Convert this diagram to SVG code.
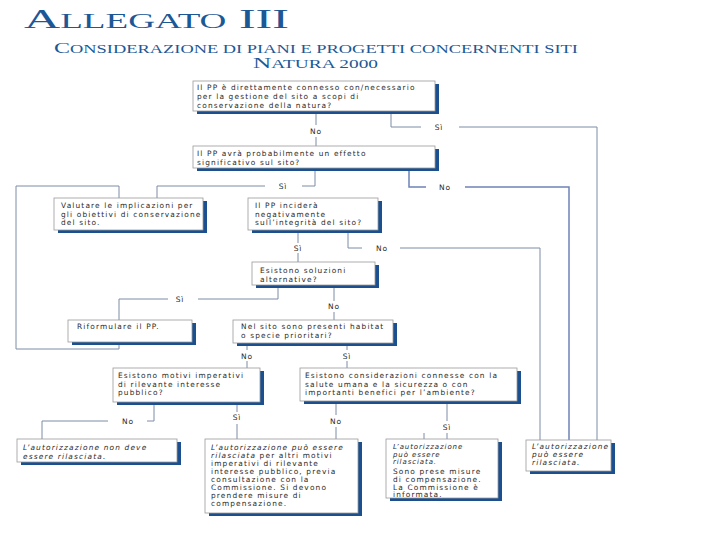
<svg xmlns="http://www.w3.org/2000/svg" width="720" height="540" viewBox="0 0 720 540">
<style>
.t{font-family:"DejaVu Sans","Liberation Sans",sans-serif;font-size:7.4px;letter-spacing:1.15px;fill:#2a2a2a}
.i{font-style:italic}
.s{font-size:7px;letter-spacing:0.9px}
.lb{font-family:"DejaVu Sans","Liberation Sans",sans-serif;font-size:7.5px;letter-spacing:0.8px;fill:#2a2a2a;text-anchor:middle}
.sh{fill:#1b4f8e}
.bx{fill:#ffffff;stroke:#9a9a9a;stroke-width:0.8}
.c{fill:none;stroke:#7f8ca6;stroke-width:1}
.ti{font-family:"Liberation Serif","Times New Roman",serif;fill:#1d5896}
</style>
<rect width="720" height="540" fill="#ffffff"/>
<g id="title">
<text class="ti" x="24" y="28" textLength="265" lengthAdjust="spacingAndGlyphs"><tspan font-size="27">A</tspan><tspan font-size="20">LLEGATO</tspan><tspan font-size="27"> III</tspan></text>
<text class="ti" x="54" y="53" textLength="524" lengthAdjust="spacingAndGlyphs"><tspan font-size="15">C</tspan><tspan font-size="11.5">ONSIDERAZIONE DI PIANI E PROGETTI CONCERNENTI SITI</tspan></text>
<text class="ti" x="253" y="68" textLength="125" lengthAdjust="spacingAndGlyphs"><tspan font-size="15">N</tspan><tspan font-size="11.5">ATURA 2000</tspan></text>
</g>
<g id="connectors">
<path class="c" d="M316,111V125M316,137V146"/>
<text class="lb" x="316" y="134">No</text>
<path class="c" d="M391,111V127H421M459,127H597V440"/>
<text class="lb" x="439" y="130">Sì</text>
<path class="c" d="M315,168V186H302M265,186H157V198"/>
<text class="lb" x="283" y="189">Sì</text>
<path class="c" d="M409,168V187H426M465,187H569V440" style="stroke:#6f83b6;stroke-width:1.5"/>
<text class="lb" x="445" y="190">No</text>
<path class="c" d="M119,198V186H16V349H119V342"/>
<path class="c" d="M298,230V243M298,253V262"/>
<text class="lb" x="298" y="251">Sì</text>
<path class="c" d="M348,230V248H362M400,248H540V440"/>
<text class="lb" x="382" y="251">No</text>
<path class="c" d="M278,285V299H198M168,299H119V320"/>
<text class="lb" x="180" y="302">Sì</text>
<path class="c" d="M334,285V301M334,312V320"/>
<text class="lb" x="334" y="309">No</text>
<path class="c" d="M247,343V350M247,361V368"/>
<text class="lb" x="247" y="359">No</text>
<path class="c" d="M347,343V350M347,361V368"/>
<text class="lb" x="347" y="359">Sì</text>
<path class="c" d="M154,402V421H147M108,421H42V439"/>
<text class="lb" x="128" y="424">No</text>
<path class="c" d="M237,402V412M237,424V439"/>
<text class="lb" x="237" y="420">Sì</text>
<path class="c" d="M336,401V415M336,427V439"/>
<text class="lb" x="336" y="424">No</text>
<path class="c" d="M447,401V421M447,433V439M424,433V439"/>
<text class="lb" x="447" y="430">Sì</text>
</g>
<g id="n1">
<rect class="sh" x="197" y="84" width="242" height="30"/>
<rect class="bx" x="193" y="81" width="242" height="30"/>
<text class="t" x="197" y="90">Il PP è direttamente connesso con/necessario</text>
<text class="t" x="197" y="99">per la gestione del sito a scopi di</text>
<text class="t" x="197" y="108">conservazione della natura?</text>
</g>
<g id="n2">
<rect class="sh" x="197" y="149" width="242" height="22"/>
<rect class="bx" x="193" y="146" width="242" height="22"/>
<text class="t" x="197" y="156">Il PP avrà probabilmente un effetto</text>
<text class="t" x="197" y="165">significativo sul sito?</text>
</g>
<g id="n3">
<rect class="sh" x="58" y="201" width="149" height="32"/>
<rect class="bx" x="54" y="198" width="149" height="32"/>
<text class="t" x="61" y="208">Valutare le implicazioni per</text>
<text class="t" x="61" y="216.5">gli obiettivi di conservazione</text>
<text class="t" x="61" y="225">del sito.</text>
</g>
<g id="n4">
<rect class="sh" x="252" y="201" width="130" height="32"/>
<rect class="bx" x="248" y="198" width="130" height="32"/>
<text class="t" x="255" y="208">Il PP inciderà</text>
<text class="t" x="255" y="216.5">negativamente</text>
<text class="t" x="255" y="225">sull’integrità del sito?</text>
</g>
<g id="n5">
<rect class="sh" x="256" y="265" width="123" height="23"/>
<rect class="bx" x="252" y="262" width="123" height="23"/>
<text class="t" x="260" y="273">Esistono soluzioni</text>
<text class="t" x="260" y="281.5">alternative?</text>
</g>
<g id="n6">
<rect class="sh" x="72" y="323" width="124" height="22"/>
<rect class="bx" x="68" y="320" width="124" height="22"/>
<text class="t" x="77" y="329">Riformulare il PP.</text>
</g>
<g id="n7">
<rect class="sh" x="237" y="323" width="160" height="23"/>
<rect class="bx" x="233" y="320" width="160" height="23"/>
<text class="t" x="241" y="329">Nel sito sono presenti habitat</text>
<text class="t" x="241" y="338">o specie prioritari?</text>
</g>
<g id="n8">
<rect class="sh" x="117" y="371" width="147" height="34"/>
<rect class="bx" x="113" y="368" width="147" height="34"/>
<text class="t" x="118" y="378">Esistono motivi imperativi</text>
<text class="t" x="118" y="386.5">di rilevante interesse</text>
<text class="t" x="118" y="395">pubblico?</text>
</g>
<g id="n9">
<rect class="sh" x="304" y="371" width="217" height="33"/>
<rect class="bx" x="300" y="368" width="217" height="33"/>
<text class="t" x="305" y="378">Esistono considerazioni connesse con la</text>
<text class="t" x="305" y="386.5">salute umana e la sicurezza o con</text>
<text class="t" x="305" y="395">importanti benefici per l’ambiente?</text>
</g>
<g id="n10">
<rect class="sh" x="21" y="442" width="160" height="23"/>
<rect class="bx" x="17" y="439" width="160" height="23"/>
<text class="t i" x="23" y="450">L’autorizzazione non deve</text>
<text class="t i" x="23" y="458.5">essere rilasciata.</text>
</g>
<g id="n11">
<rect class="sh" x="209" y="442" width="153" height="74"/>
<rect class="bx" x="205" y="439" width="153" height="74"/>
<text class="t i" x="211" y="450">L’autorizzazione può essere</text>
<text class="t" x="211" y="458"><tspan class="i">rilasciata</tspan> per altri motivi</text>
<text class="t" x="211" y="466">imperativi di rilevante</text>
<text class="t" x="211" y="474">interesse pubblico, previa</text>
<text class="t" x="211" y="482">consultazione con la</text>
<text class="t" x="211" y="490">Commissione. Si devono</text>
<text class="t" x="211" y="498">prendere misure di</text>
<text class="t" x="211" y="506">compensazione.</text>
</g>
<g id="n12">
<rect class="sh" x="390" y="442" width="112" height="59"/>
<rect class="bx" x="386" y="439" width="112" height="59"/>
<text class="t i s" x="393" y="449">L’autorizzazione</text>
<text class="t i s" x="393" y="456.5">può essere</text>
<text class="t i s" x="393" y="464">rilasciata.</text>
<text class="t" x="393" y="473.5">Sono prese misure</text>
<text class="t" x="393" y="481.5">di compensazione.</text>
<text class="t" x="393" y="489.5">La Commissione è</text>
<text class="t" x="393" y="497">informata.</text>
</g>
<g id="n13">
<rect class="sh" x="530" y="443" width="85" height="31"/>
<rect class="bx" x="526" y="440" width="85" height="31"/>
<text class="t i" x="532" y="449">L’autorizzazione</text>
<text class="t i" x="532" y="457">può essere</text>
<text class="t i" x="532" y="465">rilasciata.</text>
</g>
</svg>
